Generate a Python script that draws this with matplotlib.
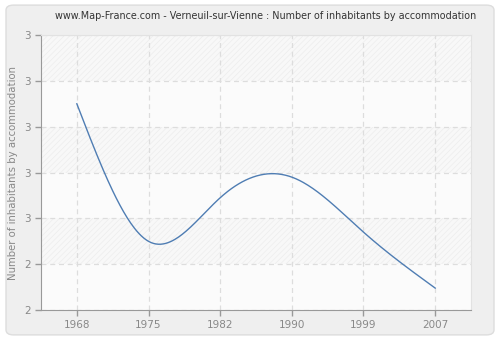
import numpy as np
import matplotlib
matplotlib.use('Agg')
import matplotlib.pyplot as plt
from matplotlib.patches import Rectangle, FancyBboxPatch

# データ
years = ['1968', '1975', '1982', '1990', '1999', '2007']
values = [2.75, 2.45, 2.545, 2.59, 2.47, 2.348]
yticks = [2.3, 2.4, 2.5, 2.6, 2.7, 2.8, 2.9]
ytick_labels = ['2', '2', '3', '3', '3', '3', '3']


def natural_spline(x, y, xs):
    # 自然3次スプライン
    x = np.asarray(x, float)
    y = np.asarray(y, float)
    n = len(x)
    h = np.diff(x)
    A = np.zeros((n, n))
    b = np.zeros(n)
    A[0, 0] = A[-1, -1] = 1
    for i in range(1, n - 1):
        A[i, i - 1] = h[i - 1]
        A[i, i] = 2 * (h[i - 1] + h[i])
        A[i, i + 1] = h[i]
        b[i] = 3 * ((y[i + 1] - y[i]) / h[i] - (y[i] - y[i - 1]) / h[i - 1])
    c = np.linalg.solve(A, b)
    out = np.zeros_like(xs)
    for k, t in enumerate(xs):
        i = min(max(np.searchsorted(x, t) - 1, 0), n - 2)
        bi = (y[i + 1] - y[i]) / h[i] - h[i] * (2 * c[i] + c[i + 1]) / 3
        di = (c[i + 1] - c[i]) / (3 * h[i])
        dx = t - x[i]
        out[k] = y[i] + bi * dx + c[i] * dx ** 2 + di * dx ** 3
    return out


pos = np.arange(len(years))
xs = np.linspace(0, len(years) - 1, 300)
ys = natural_spline(pos, values, xs)

plt.rcParams['hatch.linewidth'] = 0.5

fig = plt.figure(figsize=(5, 3.4), dpi=100)
fig.patch.set_facecolor('white')
fig.patches.append(FancyBboxPatch((0.012, 0.015), 0.976, 0.97, boxstyle='round,pad=0,rounding_size=0.015',
                                  transform=fig.transFigure, facecolor='#efefef', edgecolor='#dddddd',
                                  linewidth=1, zorder=-10))
ax = fig.add_axes([0.082, 0.088, 0.86, 0.809])
ax.set_facecolor('#fbfbfb')

ax.set_xlim(-0.5, 5.5)
ax.set_ylim(2.3, 2.9)

# 縞模様の背景
for i in range(len(yticks) - 1):
    if (len(yticks) - 2 - i) % 2 == 0:
        ax.add_patch(Rectangle((-0.5, yticks[i]), 6, yticks[i + 1] - yticks[i], facecolor='#f8f8f8',
                               edgecolor='#ededed', hatch='//////', linewidth=0, zorder=0))

ax.plot(xs, ys, color='#4f7db3', linewidth=1.0, zorder=3)

ax.set_xticks(pos)
ax.set_xticklabels(years)
ax.set_yticks(yticks)
ax.set_yticklabels(ytick_labels)
ax.grid(True, color='#dddddd', linestyle=(0, (4, 3)), linewidth=0.9, zorder=1)
ax.set_axisbelow(True)

for s in ['top', 'right']:
    ax.spines[s].set_color('#e2e2e2')
for s in ['left', 'bottom']:
    ax.spines[s].set_color('#999999')
ax.tick_params(colors='#999999', labelcolor='#888888', labelsize=7.5, length=4, width=1)

ax.set_ylabel('Number of inhabitants by accommodation', color='#888888', fontsize=7.3)
fig.text(0.532, 0.952, 'www.Map-France.com - Verneuil-sur-Vienne : Number of inhabitants by accommodation',
         ha='center', va='center', fontsize=6.9, color='#333333')

fig.savefig('out.png', dpi=100, facecolor=fig.get_facecolor())
